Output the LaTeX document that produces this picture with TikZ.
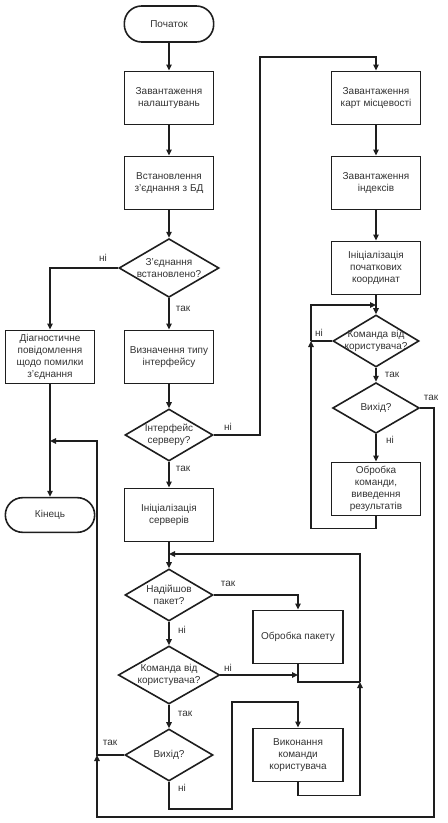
\documentclass[tikz,border=0pt]{standalone}
\usepackage{fontspec}
\setmainfont{Liberation Sans}
\usetikzlibrary{arrows.meta, shapes.geometric}
\definecolor{flowink}{HTML}{1E1E1E}
\definecolor{flowtext}{HTML}{333333}

\begin{document}
\begin{tikzpicture}[x=0.75pt, y=-0.75pt, line join=miter,
  every node/.style={font=\fontsize{7.5}{9}\selectfont, text=flowtext},
  block/.style={draw=flowink, line width=1.2pt, rectangle, minimum width=67pt,
    minimum height=40pt, align=center, inner sep=1pt},
  terminal/.style={draw=flowink, line width=1.2pt, rectangle, rounded corners=13pt,
    minimum width=67pt, minimum height=27pt},
  decision/.style={draw=flowink, line width=1.2pt, diamond, inner sep=0pt},
  dtext/.style={align=center},
  flow/.style={draw=flowink, line width=1.2pt, -{Triangle[length=4.5pt,width=4pt]}},
  link/.style={draw=flowink, line width=1.2pt},
  answer/.style={inner sep=0pt}
]
  \useasboundingbox (0,0) rectangle (448,823);

  % ============ Left column: start-up ============
  \node[terminal] (start) at (169,24) {Початок};
  \node[block] (loadcfg) at (169,98) {Завантаження\\налаштувань};
  \node[block] (dbconn) at (169,183) {Встановлення\\з’єднання з БД};
  \node[decision, minimum width=75pt, minimum height=44pt,
    label={[dtext]center:З’єднання\\встановлено?}] (dbok) at (169,268) {};
  \node[block] (diag) at (50,357) {Діагностичне\\повідомлення\\щодо помилки\\з’єднання};
  \node[block] (iftype) at (169,357) {Визначення типу\\інтерфейсу};
  \node[decision, minimum width=66pt, minimum height=39pt,
    label={[dtext]center:Інтерфейс\\серверу?}] (ifsrv) at (169,435) {};
  \node[block] (initsrv) at (169,515) {Ініціалізація\\серверів};
  \node[terminal, minimum height=26pt] (finish) at (50,515) {Кінець};

  % ============ Right column: local interface ============
  \node[block] (loadmap) at (376,98) {Завантаження\\карт місцевості};
  \node[block] (loadidx) at (376,183) {Завантаження\\індексів};
  \node[block] (initcoord) at (376,268) {Ініціалізація\\початкових\\координат};
  \node[decision, minimum width=64.5pt, minimum height=39pt,
    label={[dtext]center:Команда від\\користувача?}] (rcmd) at (376,341) {};
  \node[decision, minimum width=65pt, minimum height=38pt,
    label={[dtext]center:Вихід?}] (rexit) at (376,408) {};
  \node[block] (rproc) at (376,489) {Обробка\\команди,\\виведення\\результатів};

  % ============ Server loop ============
  \node[decision, minimum width=66pt, minimum height=39pt,
    label={[dtext]center:Надійшов\\пакет?}] (pkt) at (169,595) {};
  \node[block, minimum width=67.5pt] (procpkt) at (298,637) {Обробка пакету};
  \node[decision, minimum width=76pt, minimum height=43.5pt,
    label={[dtext]center:Команда від\\користувача?}] (lcmd) at (169,675) {};
  \node[decision, minimum width=66pt, minimum height=39pt,
    label={[dtext]center:Вихід?}] (lexit) at (169,755) {};
  \node[block, minimum width=67.5pt] (execcmd) at (298,755) {Виконання\\команди\\користувача};

  % junction points where loops come back in
  \coordinate (fjoin) at (50,441);
  \coordinate (rjoin) at (376,305);
  \coordinate (rback) at (311,341);
  \coordinate (pjoin) at (169,554);
  \coordinate (mjoin) at (360,682);
  \coordinate (ljoin) at (97,755);
  \coordinate (outer) at (434,817);

  % ============ Connectors ============
  \draw[flow] (start) -- (loadcfg);
  \draw[flow] (loadcfg) -- (dbconn);
  \draw[flow] (dbconn) -- (dbok);
  \draw[flow] (dbok.west) -| (diag.north);
  \draw[flow] (dbok) -- (iftype);
  \draw[flow] (iftype) -- (ifsrv);
  \draw[flow] (ifsrv) -- (initsrv);
  \draw[flow] (ifsrv.east) -| (260,57) -| (loadmap.north);
  \draw[flow] (diag) -- (finish);

  \draw[flow] (loadmap) -- (loadidx);
  \draw[flow] (loadidx) -- (initcoord);
  \draw[flow] (initcoord) -- (rcmd);
  \draw[link] (rcmd.west) -- (rback);
  \draw[flow] (rproc.south) -- ++(0,12) -| (rback);
  \draw[flow] (rback) |- (rjoin);
  \draw[flow] (rcmd) -- (rexit);
  \draw[flow] (rexit) -- (rproc);
  \draw[flow] (rexit.east) -| (outer) -| (ljoin);

  \draw[flow] (initsrv) -- (pkt);
  \draw[flow] (pkt.east) -| (procpkt.north);
  \draw[flow] (pkt) -- (lcmd);
  \draw[flow] (lcmd.east) -- (lcmd.east -| procpkt.south);
  \draw[link] (procpkt.south) |- (mjoin);
  \draw[flow] (mjoin) |- (pjoin);
  \draw[flow] (lcmd) -- (lexit);
  \draw[flow] (lexit.south) -- ++(0,27) -| (232,702) -| (execcmd.north);
  \draw[flow] (execcmd.south) -- ++(0,13) -| (mjoin);
  \draw[flow] (lexit.west) -- (ljoin) |- (fjoin);

  % yes / no answers
  \node[answer] (dbokno) at (103,258) {ні};
  \node[answer] (dbokyes) at (183,309) {так};
  \node[answer] (ifsrvno) at (228,427) {ні};
  \node[answer] (ifsrvyes) at (183,469) {так};
  \node[answer] (rcmdno) at (319,333) {ні};
  \node[answer] (rcmdyes) at (392,375) {так};
  \node[answer] (rexityes) at (431,398) {так};
  \node[answer] (rexitno) at (390,440) {ні};
  \node[answer] (pktyes) at (228,584) {так};
  \node[answer] (pktno) at (182,630) {ні};
  \node[answer] (lcmdno) at (228,668) {ні};
  \node[answer] (lcmdyes) at (185,714) {так};
  \node[answer] (lexityes) at (110,743) {так};
  \node[answer] (lexitno) at (182,788) {ні};

\end{tikzpicture}
\end{document}
